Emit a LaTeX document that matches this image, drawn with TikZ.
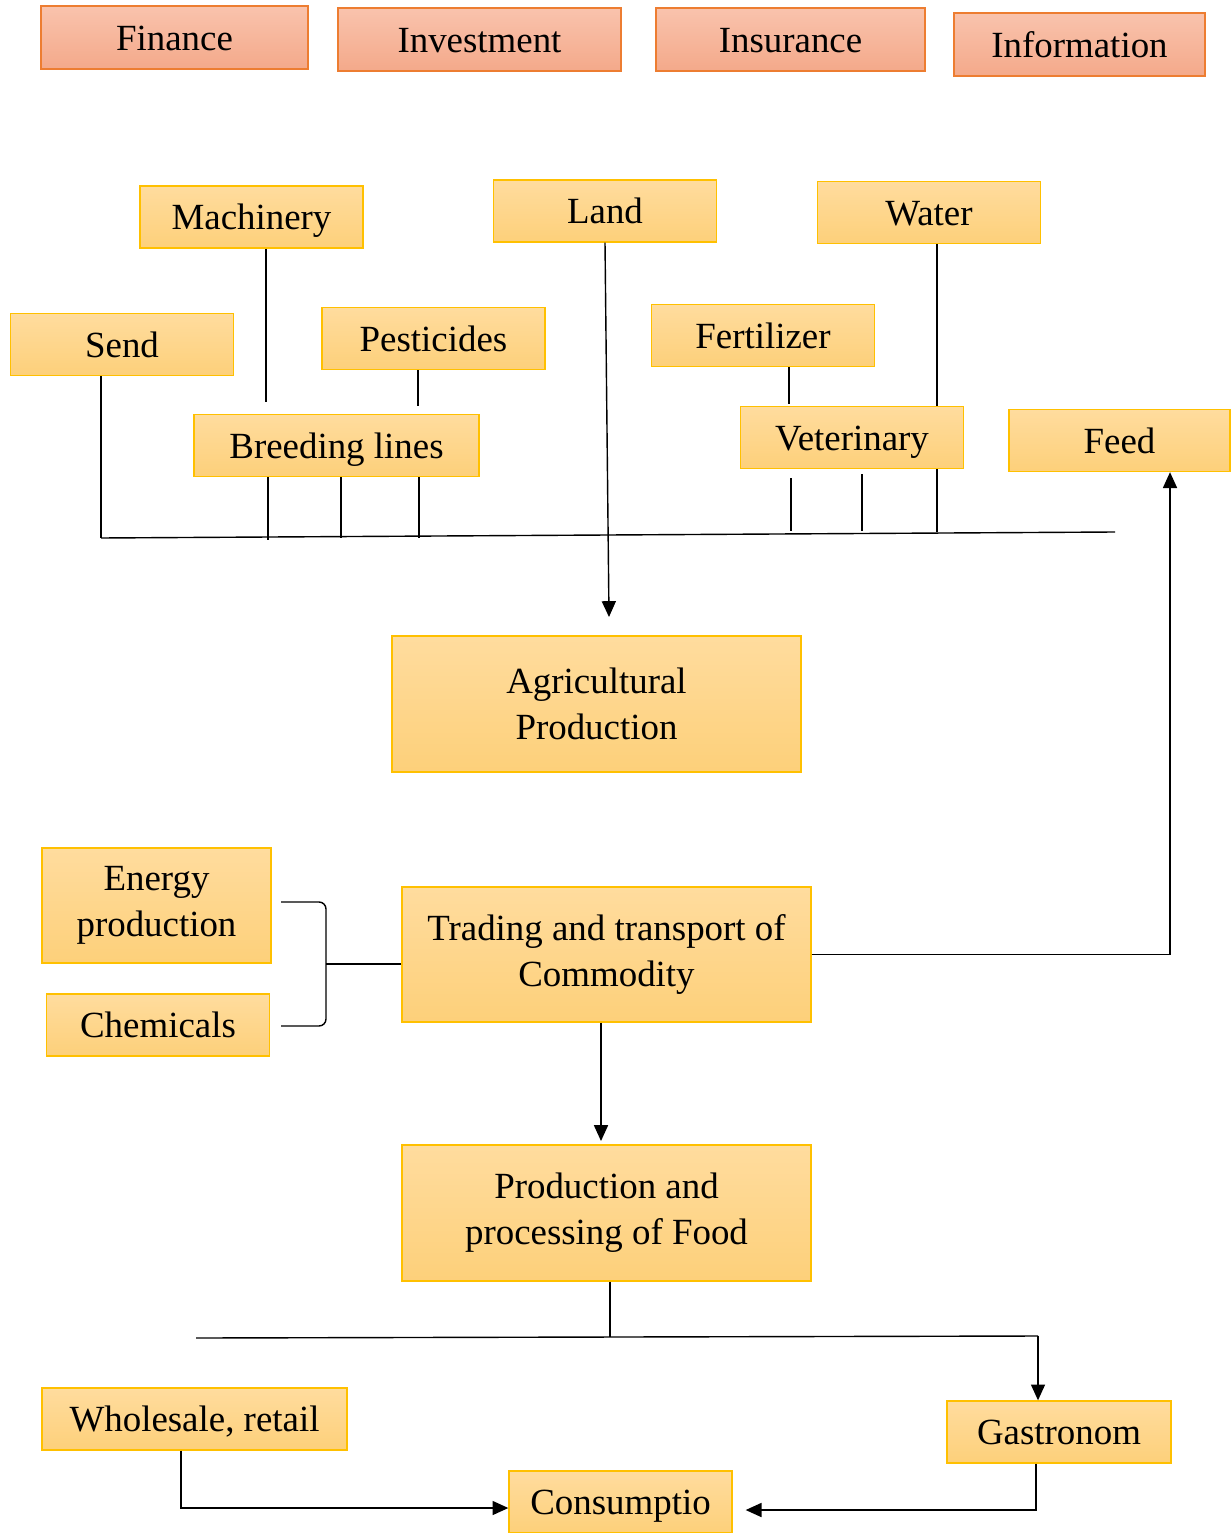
\documentclass[tikz,border=0pt]{standalone}
\usepackage{fontspec}
\setmainfont{Liberation Serif}
\usepackage{tikz}
\usetikzlibrary{arrows.meta,positioning}
\usepackage{xcolor}
\definecolor{orangetop}{HTML}{F9C3AD}
\definecolor{orangebot}{HTML}{F4A98A}
\definecolor{orangeline}{HTML}{ED7D31}
\definecolor{goldtop}{HTML}{FFDC9E}
\definecolor{goldbot}{HTML}{FDD07A}
\definecolor{goldline}{HTML}{FFC000}

\begin{document}
\begin{tikzpicture}[x=0.02cm,y=-0.02cm,
  oneline/.style={text height=14.6pt,text depth=0pt},
  topic/.style={draw=orangeline,line width=0.8pt,top color=orangetop,bottom color=orangebot,oneline,
    minimum height=1.26cm,inner sep=0pt,font=\fontsize{21}{26}\selectfont},
  item/.style={draw=goldline,line width=0.8pt,top color=goldtop,bottom color=goldbot,oneline,
    minimum width=4.46cm,minimum height=1.24cm,inner sep=0pt,align=center,font=\fontsize{21}{26}\selectfont},
  twoline/.style={text height={},text depth={},yshift=0pt},
  stage/.style={item,twoline,minimum width=8.18cm,minimum height=2.72cm},
  wire/.style={line width=0.8pt},
  arr/.style={wire,-{Triangle[length=9pt,width=8pt]}}]
\useasboundingbox (0,0) rectangle (1230,1533);
\node[topic,minimum width=5.34cm] (finance) at (174.5,37.5) {Finance};
\node[topic,minimum width=5.66cm] (investment) at (479.5,39.5) {Investment};
\node[topic,minimum width=5.38cm] (insurance) at (790.5,39.5) {Insurance};
\node[topic,minimum width=5.02cm] (information) at (1079.5,44.5) {Information};
\node[item] (machinery) at (251.5,217) {Machinery};
\node[item] (land) at (605,211) {Land};
\node[item] (water) at (929,212.5) {Water};
\node[item] (send) at (122,344.5) {Send};
\node[item] (pesticides) at (433.5,338.5) {Pesticides};
\node[item] (fertilizer) at (763,335.5) {Fertilizer};
\node[item,minimum width=5.7cm] (breeding) at (336.5,445.5) {Breeding lines};
\node[item] (veterinary) at (852,437.5) {Veterinary};
\node[item,minimum width=4.42cm] (feed) at (1119.5,440.5) {Feed};
\node[stage] (agri) at (596.5,704) {Agricultural\\Production};
\node[item,twoline,minimum width=4.58cm,minimum height=2.3cm] (energy) at (156.5,905.5) {Energy\\production};
\node[item] (chemicals) at (158,1025) {Chemicals};
\node[stage,minimum height=2.7cm] (trading) at (606.5,954.5) {Trading and transport of\\Commodity};
\node[stage] (food) at (606.5,1213) {Production and\\processing of Food};
\node[item,minimum width=6.1cm] (wholesale) at (194.5,1419) {Wholesale, retail};
\node[item,minimum width=4.48cm] (gastronom) at (1059,1432) {Gastronom};
\node[item] (consumptio) at (620.5,1502) {Consumptio};
\coordinate (busL) at (101,538);
\coordinate (busR) at (1115,532);
\coordinate (d1) at (266,402);
\coordinate (d2) at (418,406);
\coordinate (d3) at (268,540);
\coordinate (d4) at (341,538);
\coordinate (d5) at (419,538);
\coordinate (d6) at (789,404);
\coordinate (d7) at (791,531);
\coordinate (d8) at (862,531);
\coordinate (d9) at (937,532);
\coordinate (landtip) at (609,617);
\coordinate (fx) at (1170,0);
\coordinate (brk) at (326,964);
\coordinate (bt) at (281,902);
\coordinate (bb) at (281,1026);
\coordinate (t1) at (601,1141);
\coordinate (p2) at (610,1337);
\coordinate (bl) at (196,1338);
\coordinate (br) at (1038,1336);
\coordinate (ws) at (181,1508);
\coordinate (gs) at (1036,1510);
\draw[wire] (busL) -- (busR);
\draw[wire] (send.south -| busL) -- (busL);
\draw[wire] (machinery.south -| d1) -- (d1);
\draw[wire] (pesticides.south -| d2) -- (d2);
\draw[wire] (breeding.south -| d3) -- (d3);
\draw[wire] (breeding.south -| d4) -- (d4);
\draw[wire] (breeding.south -| d5) -- (d5);
\draw[wire] (fertilizer.south -| d6) -- (d6);
\draw[wire] (water.south -| d9) -- (veterinary.north -| d9);
\draw[wire] ([yshift=-0.18cm]veterinary.south -| d7) -- (d7);
\draw[wire] ([yshift=-0.1cm]veterinary.south -| d8) -- (d8);
\draw[wire] (veterinary.south -| d9) -- (d9);
\draw[arr] (land.south) -- (landtip);
\draw[arr] (trading.east |- trading.center) -| (feed.south -| fx);
\draw[wire,rounded corners=4pt] (bt) -| (brk |- bb) -- (bb);
\draw[wire] (brk) -- (trading.west |- brk);
\draw[arr] (trading.south -| t1) -- (t1);
\draw[wire] (food.south -| p2) -- (p2);
\draw[wire] (bl) -- (br);
\draw[arr] (br) -- (gastronom.north -| br);
\draw[arr] (wholesale.south -| ws) -- (ws) -- (consumptio.west |- ws);
\draw[arr,shorten >=0.26cm] (gastronom.south -| gs) -- (gs) -- (consumptio.east |- gs);
\end{tikzpicture}
\end{document}
